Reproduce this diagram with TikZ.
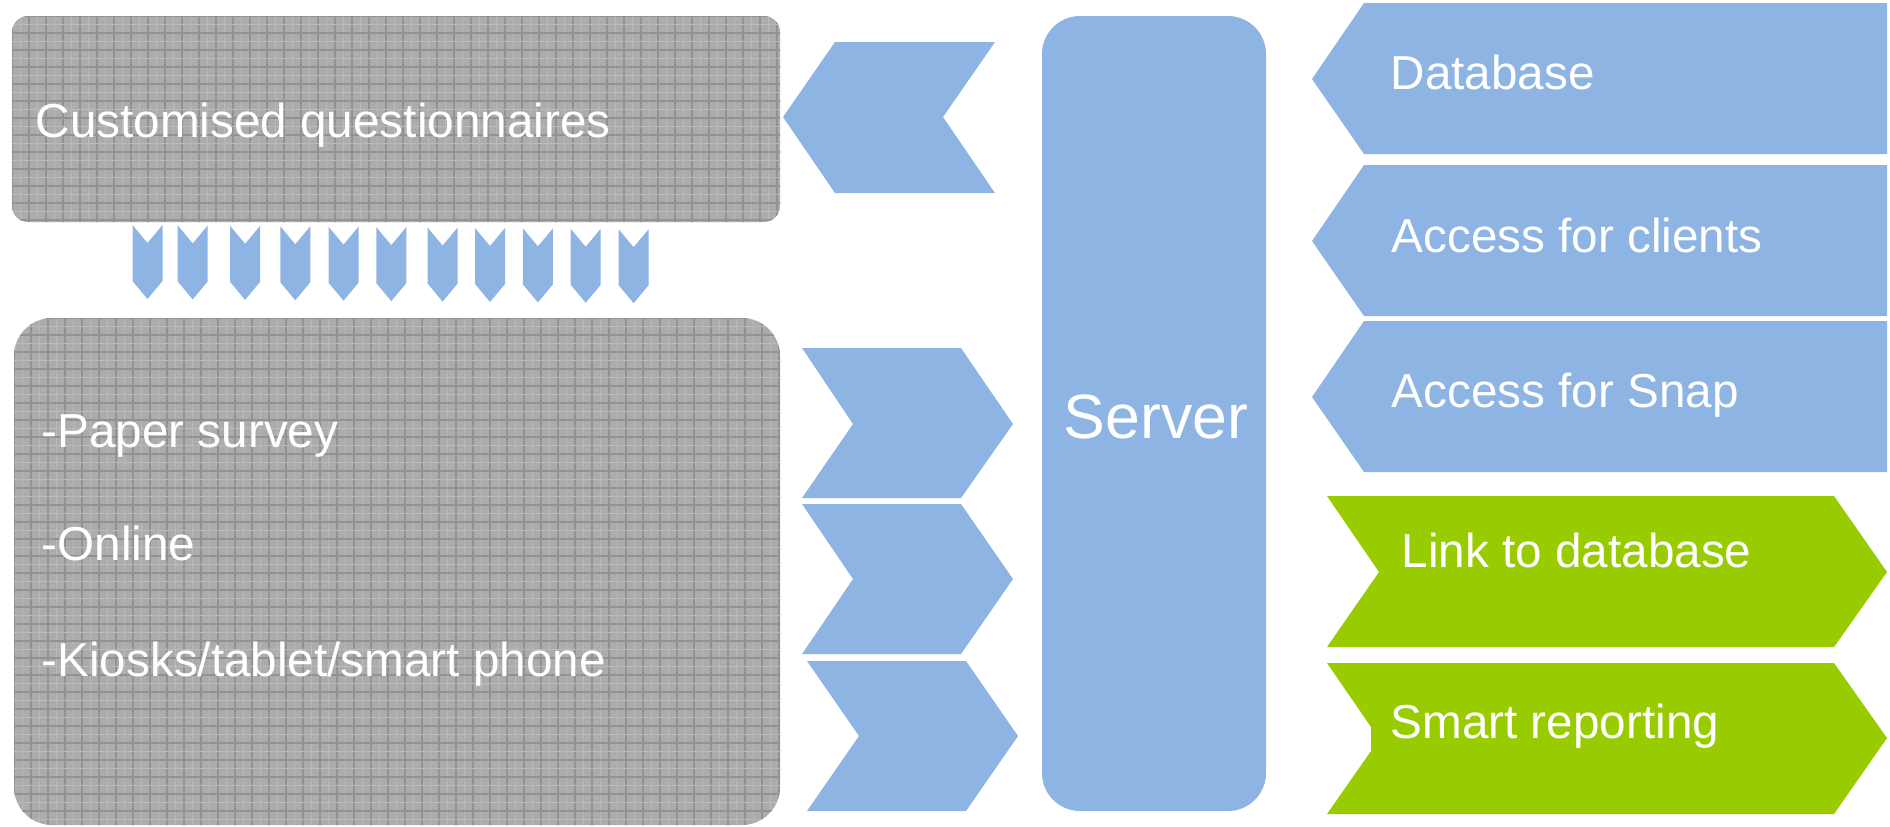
\documentclass[tikz,border=0pt]{standalone}
\usepackage{fontspec}
\setmainfont{Liberation Sans}
\definecolor{chevblue}{RGB}{141,180,227}
\definecolor{chevgreen}{RGB}{153,204,0}
\definecolor{panelgray}{RGB}{172,172,172}
\definecolor{panelgrid}{RGB}{146,146,146}
\definecolor{panelfine}{RGB}{186,186,186}
\begin{document}
\begin{tikzpicture}[x=0.01cm,y=-0.01cm,
  blueshape/.style={fill=chevblue},
  greenshape/.style={fill=chevgreen},
  txt/.style={text=white,font=\fontsize{13.55}{16}\selectfont,inner sep=0pt,anchor=base west},
  gridline/.style={panelgrid,line width=0.4pt},
  fineline/.style={panelfine,line width=0.3pt}]
\useasboundingbox (0,0) rectangle (1890,826);

% upper textured panel
\begin{scope}
  \clip[rounded corners=0.16cm] (12,16) rectangle (780,222);
  \fill[panelgray] (0,0) rectangle (800,240);
  \foreach \k in {0,...,46} {
    \draw[fineline] (20.5+17*\k,0) -- ++(0,240);
    \draw[gridline] (12+17*\k,0) -- ++(0,240);}
  \foreach \k in {0,...,13} {
    \draw[fineline] (0,24.5+17*\k) -- ++(800,0);
    \draw[gridline] (0,16+17*\k) -- ++(800,0);}
\end{scope}

% lower textured panel
\begin{scope}
  \clip[rounded corners=0.38cm] (14,318) rectangle (780,825);
  \fill[panelgray] (0,300) rectangle (800,826);
  \foreach \k in {0,...,46} {
    \draw[fineline] (22.5+17*\k,300) -- ++(0,526);
    \draw[gridline] (14+17*\k,300) -- ++(0,526);}
  \foreach \k in {0,...,30} {
    \draw[fineline] (0,326.5+17*\k) -- ++(800,0);
    \draw[gridline] (0,318+17*\k) -- ++(800,0);}
\end{scope}

% small downward arrows between the panels
\foreach \xl [count=\i from 0] in {132.5,177.7,230.1,280.3,328.5,376.3,427.6,475,522.9,570.7,618.6}{
  \pgfmathsetmacro\tp{225+0.42*\i}
  \fill[blueshape] (\xl,\tp) -- (\xl+15,\tp+18) -- (\xl+30,\tp) -- (\xl+30,\tp+56)
    -- (\xl+15,\tp+74) -- (\xl,\tp+56) -- cycle;
}

% chevron pointing back to the questionnaires
\fill[blueshape] (783,117) -- (835,42) -- (995,42) -- (943,117) -- (995,193) -- (835,193) -- cycle;

% three chevrons towards the server
\fill[blueshape] (802,348) -- (961,348) -- (1013,424) -- (961,498) -- (802,498) -- (853,424) -- cycle;
\fill[blueshape] (802,504) -- (961,504) -- (1013,579) -- (961,654) -- (802,654) -- (853,579) -- cycle;
\fill[blueshape] (807,661) -- (966,661) -- (1018,736) -- (966,811) -- (807,811) -- (859,736) -- cycle;

% server column
\fill[blueshape, rounded corners=0.38cm] (1042,16) rectangle (1266,811);

% services offered by the server
\fill[blueshape] (1312,79) -- (1364,3) -- (1887,3) -- (1887,154) -- (1364,154) -- cycle;
\fill[blueshape] (1312,241) -- (1364,165) -- (1887,165) -- (1887,316) -- (1364,316) -- cycle;
\fill[blueshape] (1312,397) -- (1364,321) -- (1887,321) -- (1887,472) -- (1364,472) -- cycle;

% outputs
\fill[greenshape] (1327,496) -- (1834,496) -- (1887,572) -- (1834,647) -- (1327,647) -- (1379,572) -- cycle;
\fill[greenshape] (1327,663) -- (1834,663) -- (1887,738) -- (1834,814) -- (1327,814)
  -- (1371,751) -- (1371,727) -- cycle;

% labels
\node[txt] (cq) at (35,137) {Customised questionnaires};
\node[txt] (paper) at (41,447) {-Paper survey};
\node[txt] (online) at (41,560) {-Online};
\node[txt] (kiosk) at (41,676) {-Kiosks/tablet/smart phone};
\node[txt, anchor=base, font=\fontsize{17.8}{20}\selectfont] (server) at (1156,438) {Server};
\node[txt] (db) at (1390,89) {Database};
\node[txt] (clients) at (1391,252) {Access for clients};
\node[txt] (snap) at (1391,407) {Access for Snap};
\node[txt] (link) at (1401,567) {Link to database};
\node[txt] (report) at (1390,738) {Smart reporting};
\end{tikzpicture}
\end{document}
